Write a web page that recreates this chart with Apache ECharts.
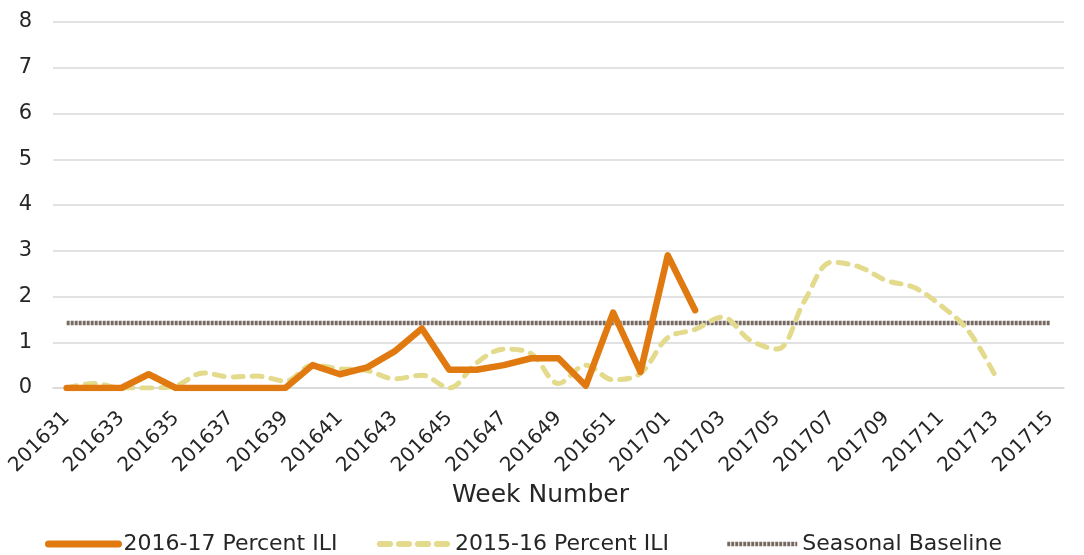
<!DOCTYPE html>
<html>
<head>
<meta charset="utf-8">
<script src="https://cdn.jsdelivr.net/npm/echarts@6/dist/echarts.min.js"></script>
<style>
  html, body { margin: 0; padding: 0; background: #fff; }
  #main { width: 1084px; height: 555px; }
</style>
</head>
<body>
<div id="main"></div>
<script>
// week numbers 201631 .. 201715
var weeks = ['201631', '201632', '201633', '201634', '201635', '201636', '201637', '201638',
  '201639', '201640', '201641', '201642', '201643', '201644', '201645', '201646', '201647',
  '201648', '201649', '201650', '201651', '201652', '201701', '201702', '201703', '201704',
  '201705', '201706', '201707', '201708', '201709', '201710', '201711', '201712', '201713',
  '201714', '201715'];

var ili1617 = [0, 0, 0, 0.3, 0, 0, 0, 0, 0, 0.5, 0.3, 0.45, 0.8, 1.3, 0.4, 0.4, 0.5, 0.65,
  0.65, 0.05, 1.65, 0.35, 2.9, 1.7];

var ili1516 = [0, 0.1, 0, 0, 0.05, 0.33, 0.24, 0.26, 0.15, 0.5, 0.42, 0.38, 0.2, 0.28, 0,
  0.55, 0.85, 0.75, 0.1, 0.5, 0.18, 0.32, 1.1, 1.28, 1.55, 1.05, 0.85, 1.9, 2.75, 2.65,
  2.35, 2.2, 1.8, 1.25, 0.25];

var baseline = weeks.map(function () { return 1.42; });

var yTicks = { min: 0, max: 8, step: 1 };

var font = 'DejaVu Sans';
var orange = '#e07a10', tan = '#e3da8c', brown = '#776a62';

function legendAt(left, name, lineStyle) {
  return {
    left: left,
    top: 533,
    padding: 0,
    itemWidth: 70,
    itemHeight: 14,
    itemStyle: { opacity: 0 },
    textStyle: { fontFamily: font, fontSize: 22, color: '#262626' },
    data: [{ name: name, lineStyle: lineStyle }]
  };
}

var chart = echarts.init(document.getElementById('main'));

chart.setOption({
  animation: false,
  grid: { left: 53, right: 20, top: 22, bottom: 167 },
  legend: [
    legendAt(45, '2016-17 Percent ILI', { color: orange, width: 7, cap: 'round' }),
    legendAt(377, '2015-16 Percent ILI', { color: tan, width: 6, type: [10, 9], cap: 'round' }),
    legendAt(725, 'Seasonal Baseline', { color: brown, width: 4.5, type: [3, 1] })
  ],
  xAxis: {
    type: 'category',
    data: weeks,
    boundaryGap: true,
    name: 'Week Number',
    nameLocation: 'middle',
    nameGap: 94,
    nameTextStyle: { fontFamily: font, fontSize: 25, color: '#262626', padding: [0, 36, 0, 0] },
    axisLine: { lineStyle: { color: '#d9d9d9', width: 1.5 } },
    axisTick: { show: false },
    axisLabel: {
      interval: 1,
      rotate: 45,
      margin: 27,
      fontFamily: font,
      fontSize: 20,
      color: '#262626'
    }
  },
  yAxis: {
    type: 'value',
    min: yTicks.min,
    max: yTicks.max,
    interval: yTicks.step,
    axisLine: { show: false },
    axisTick: { show: false },
    splitLine: { lineStyle: { color: '#d9d9d9', width: 1.5 } },
    axisLabel: { margin: 21, fontFamily: font, fontSize: 21, color: '#262626' }
  },
  series: [
    {
      name: 'Seasonal Baseline',
      type: 'line',
      data: baseline,
      symbol: 'none',
      z: 1,
      lineStyle: { color: brown, width: 4.5, type: [3, 1] },
      itemStyle: { color: brown }
    },
    {
      name: '2015-16 Percent ILI',
      type: 'line',
      data: ili1516,
      symbol: 'none',
      smooth: 0.35,
      z: 2,
      lineStyle: { color: tan, width: 5, type: [10, 9], cap: 'round' },
      itemStyle: { color: tan }
    },
    {
      name: '2016-17 Percent ILI',
      type: 'line',
      data: ili1617,
      symbol: 'none',
      z: 3,
      lineStyle: { color: orange, width: 6.5, cap: 'round', join: 'round' },
      itemStyle: { color: orange }
    }
  ]
});
</script>
</body>
</html>
